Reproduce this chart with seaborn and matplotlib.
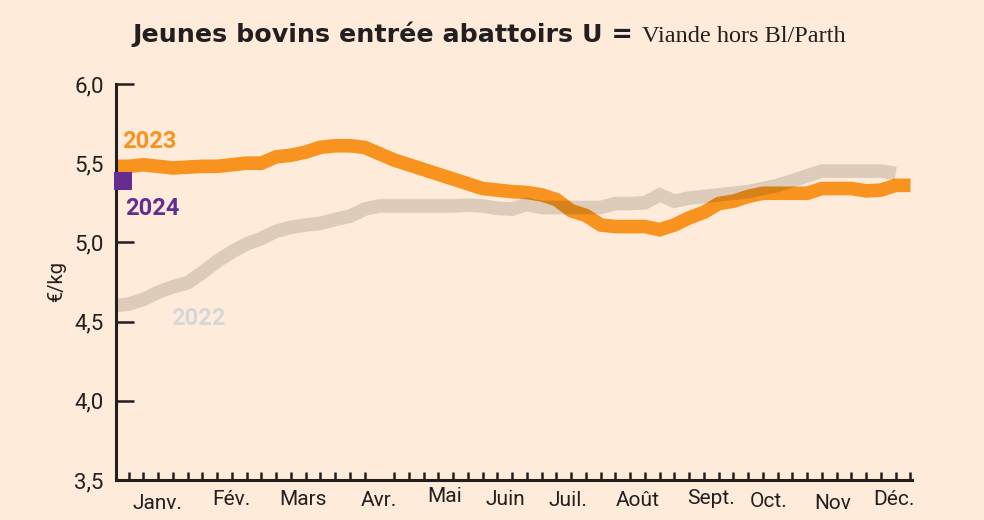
import matplotlib
matplotlib.use('Agg')
import matplotlib.pyplot as plt
from matplotlib.transforms import ScaledTranslation
import seaborn as sns
import pandas as pd

# Weekly prices (EUR/kg), week index on x
weeks_2023 = list(range(0, 55))
prix_2023 = [5.48, 5.48, 5.49, 5.48, 5.47, 5.475, 5.48, 5.48, 5.49, 5.50,
             5.50, 5.54, 5.55, 5.57, 5.60, 5.61, 5.61, 5.60, 5.56, 5.52,
             5.49, 5.46, 5.43, 5.40, 5.37, 5.34, 5.33, 5.32, 5.315, 5.30,
             5.27, 5.20, 5.17, 5.11, 5.10, 5.10, 5.10, 5.08, 5.11, 5.155,
             5.19, 5.245, 5.26, 5.29, 5.31, 5.31, 5.31, 5.31, 5.34, 5.34,
             5.34, 5.325, 5.33, 5.36, 5.36]

weeks_2022 = list(range(0, 54))
prix_2022 = [4.60, 4.61, 4.64, 4.685, 4.72, 4.745, 4.81, 4.88, 4.94, 4.99,
             5.025, 5.07, 5.095, 5.11, 5.12, 5.145, 5.165, 5.21, 5.23, 5.23,
             5.23, 5.23, 5.23, 5.23, 5.235, 5.23, 5.215, 5.21, 5.24, 5.22,
             5.22, 5.22, 5.22, 5.22, 5.245, 5.245, 5.25, 5.30, 5.26, 5.28,
             5.29, 5.30, 5.31, 5.32, 5.34, 5.36, 5.39, 5.42, 5.45, 5.45,
             5.45, 5.45, 5.45, 5.435]

weeks_2024 = [0.6]
prix_2024 = [5.385]

mois = ['Janv.', 'Fév.', 'Mars', 'Avr.', 'Mai', 'Juin', 'Juil.', 'Août',
        'Sept.', 'Oct.', 'Nov', 'Déc.']
mois_pos = [2.95, 7.97, 12.85, 18.0, 22.41, 26.55, 30.76, 35.5, 40.46, 44.4,
            48.74, 52.88]
mois_dy = [-4, 0, 0, -1, 3, 0, -1, -1, 1, -2, -4, 0]  # small jitter, px

y_ticks = [3.5, 4.0, 4.5, 5.0, 5.5, 6.0]
y_labels = ['3,5', '4,0', '4,5', '5,0', '5,5', '6,0']

BG = '#FEEBD9'
ORANGE = '#F7931E'
PURPLE = '#662D91'
DARK = '#231F20'
FONTS = ['Roboto', 'DejaVu Sans']

sns.set_theme(style='ticks')
plt.rcParams['font.family'] = FONTS

df23 = pd.DataFrame({'semaine': weeks_2023, 'prix': prix_2023})
df22 = pd.DataFrame({'semaine': weeks_2022, 'prix': prix_2022})
df24 = pd.DataFrame({'semaine': weeks_2024, 'prix': prix_2024})

fig = plt.figure(figsize=(9.84, 5.2), dpi=100, facecolor=BG)
ax = fig.add_axes([0.1179, 0.0769, 0.8089, 0.7616])
ax.set_facecolor(BG)

sns.lineplot(data=df23, x='semaine', y='prix', ax=ax, color=ORANGE,
             linewidth=9.8, solid_capstyle='butt', solid_joinstyle='miter')
# 2022 drawn on top, semi-transparent (darkens the overlap)
sns.lineplot(data=df22, x='semaine', y='prix', ax=ax, color='#1B1600',
             alpha=0.14, linewidth=9.8, solid_capstyle='butt',
             solid_joinstyle='miter')
sns.scatterplot(data=df24, x='semaine', y='prix', ax=ax, color=PURPLE,
                marker='s', s=150, linewidth=0, zorder=5, clip_on=False)

ax.set_xlim(0.15, 54.1)
ax.set_ylim(3.5, 6.0)

ax.set_yticks(y_ticks)
ax.set_yticklabels(y_labels, fontsize=16, color=DARK)
ax.tick_params(axis='y', direction='in', length=13, width=1.8, color=DARK,
               pad=9)

ax.set_xticks(mois_pos)
ax.set_xticklabels(mois, fontsize=15, color=DARK)
ax.set_xticks([k + 1 for k in range(54)], minor=True)
ax.tick_params(axis='x', which='major', length=0, pad=7)
ax.tick_params(axis='x', which='minor', direction='in', length=6, width=1.8,
               color=DARK)
for lab, dy in zip(ax.get_xticklabels(), mois_dy):
    lab.set_transform(lab.get_transform() +
                      ScaledTranslation(0, dy / 100, fig.dpi_scale_trans))

for side in ['top', 'right']:
    ax.spines[side].set_visible(False)
for side in ['left', 'bottom']:
    ax.spines[side].set_linewidth(2.2)
    ax.spines[side].set_color(DARK)

ax.set_xlabel('')
ax.set_ylabel('€/kg', fontsize=14.5, color=DARK, labelpad=6)

ax.text(0.55, 5.64, '2023', color=ORANGE, fontsize=17, fontweight='bold',
        va='center', ha='left')
ax.text(0.8, 5.215, '2024', color=PURPLE, fontsize=17, fontweight='bold',
        va='center', ha='left')
ax.text(3.9, 4.52, '2022', color='#D6D7D9', fontsize=17, fontweight='bold',
        va='center', ha='left')

fig.text(633 / 984, 1 - 42 / 520, 'Jeunes bovins entrée abattoirs U =',
         fontsize=18.3, fontweight='bold', color=DARK, ha='right',
         va='baseline', family=['DejaVu Sans'])
fig.text(642 / 984, 1 - 42 / 520, 'Viande hors Bl/Parth',
         fontsize=17.5, color=DARK, ha='left', va='baseline',
         family=['Liberation Serif', 'DejaVu Serif'])

fig.savefig('out.png', dpi=100, facecolor=BG)
